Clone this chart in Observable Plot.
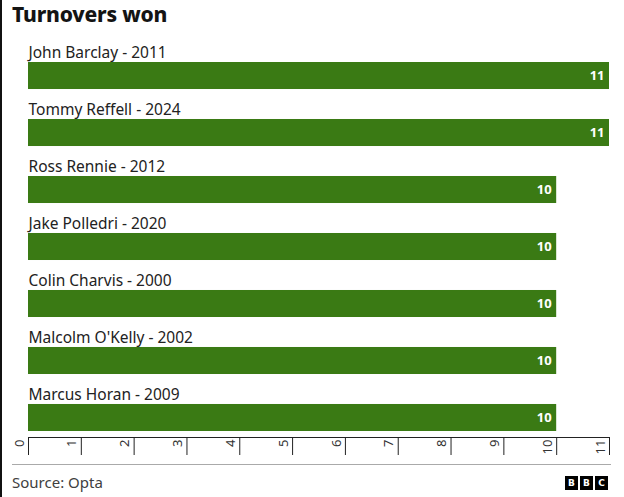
<!DOCTYPE html>
<html><head><meta charset="utf-8">
<script src="https://cdn.jsdelivr.net/npm/d3@7"></script>
<script src="https://cdn.jsdelivr.net/npm/@observablehq/plot@0.6"></script>
<style>
body{margin:0;background:#fff;font-family:"Noto Sans",sans-serif;width:624px;height:497px;overflow:hidden;position:relative}
#edge{position:absolute;left:0;top:0;width:2px;height:497px;background:#111}
#title{position:absolute;left:12px;top:0px;font-size:21px;font-weight:800;color:#141414;letter-spacing:-0.2px}
#chart{position:absolute;left:0;top:35px}
#rule{position:absolute;left:12px;top:464px;width:599px;height:1px;background:#aaa}
#source{position:absolute;left:12px;top:472px;font-size:15px;color:#404040}
#logo{position:absolute;left:565px;top:476px;display:flex;gap:2px}
#logo span{width:13px;height:14px;background:#000;color:#fff;font:bold 9px "DejaVu Sans",sans-serif;display:flex;align-items:center;justify-content:center}
</style></head>
<body>
<div id="edge"></div>
<div id="title">Turnovers won</div>
<div id="chart"></div>
<div id="rule"></div>
<div id="source">Source: Opta</div>
<div id="logo"><span>B</span><span>B</span><span>C</span></div>
<script>
const names = ["John Barclay - 2011","Tommy Reffell - 2024","Ross Rennie - 2012","Jake Polledri - 2020","Colin Charvis - 2000","Malcolm O'Kelly - 2002","Marcus Horan - 2009"];
const values = [11,11,10,10,10,10,10];
const xTicks = [0,1,2,3,4,5,6,7,8,9,10,11];

const data = names.map((name,i)=>({name, value: values[i]}));
const chart = Plot.plot({
  width:624, height:424, marginLeft:28, marginRight:15, marginTop:27, marginBottom:22,
  x:{domain:[0,11], axis:null},
  y:{domain:names, paddingInner:0.526, paddingOuter:0, align:0, insetBottom:6, round:false, axis:null},
  style:{fontFamily:"Noto Sans", fontSize:"15px", color:"#222", background:"transparent"},
  marks:[
    Plot.barX(data,{x:"value", y:"name", fill:"#3a7a14"}),
    Plot.text(data,{x:0, y:"name", text:"name", textAnchor:"start", dy:-23, fontSize:15.5, fill:"#222"}),
    Plot.text(data,{x:"value", y:"name", text:d=>String(d.value), textAnchor:"end", dx:-5, fill:"white", fontWeight:"bold", fontSize:13}),
    Plot.frame({anchor:"bottom", stroke:"#222"}),
    Plot.axisX({ticks:xTicks, tickSize:18, tickFormat:()=>"", label:null, stroke:"#222"}),
    Plot.axisX({ticks:xTicks, tickSize:0, tickPadding:2, tickRotate:-90, textAnchor:"end", lineAnchor:"middle", dx:-9, label:null, fontSize:13, fill:"#333"})
  ]
});
document.getElementById("chart").appendChild(chart);
</script>
</body></html>
